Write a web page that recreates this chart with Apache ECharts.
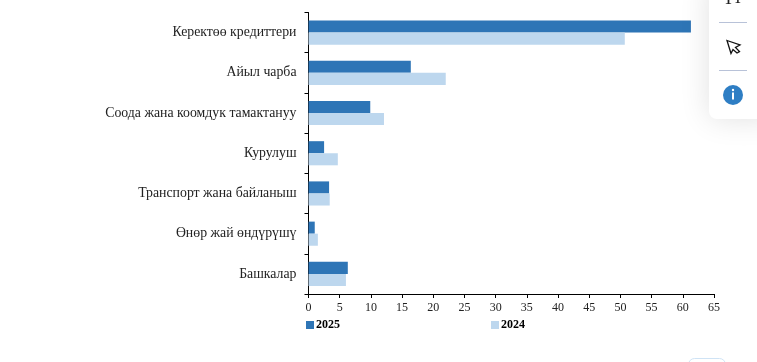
<!DOCTYPE html>
<html>
<head>
<meta charset="utf-8">
<style>
  html, body { margin: 0; padding: 0; background: #fff; }
  #chart { width: 757px; height: 362px; }
</style>
<script src="https://cdn.jsdelivr.net/npm/echarts@6/dist/echarts.min.js"></script>
</head>
<body>
<div id="chart"></div>
<script>
const categories = ['Керектөө кредиттери', 'Айыл чарба', 'Соода жана коомдук тамактануу', 'Курулуш', 'Транспорт жана байланыш', 'Өнөр жай өндүрүшү', 'Башкалар']
const values2025 = [61.3, 16.4, 9.9, 2.5, 3.3, 1.0, 6.3]
const values2024 = [50.7, 22.0, 12.1, 4.7, 3.4, 1.5, 6.0]

const serif = '"Liberation Serif", serif'
const chart = echarts.init(document.getElementById('chart'))

chart.setOption({
  animation: false,
  textStyle: { fontFamily: serif },
  grid: { left: 308.5, right: 43, top: 12.5, bottom: 68 },
  legend: {
    left: 301,
    top: 314,
    itemWidth: 8,
    itemHeight: 8,
    itemGap: 151,
    icon: 'rect',
    textStyle: { fontFamily: serif, fontSize: 12, fontWeight: 'bold', color: '#000', padding: [0, 0, 0, -3] }
  },
  xAxis: {
    type: 'value',
    min: 0,
    max: 65,
    interval: 5,
    splitLine: { show: false },
    axisLine: { show: true, lineStyle: { color: '#000', width: 1 } },
    axisTick: { show: true, length: 4, lineStyle: { color: '#000' } },
    axisLabel: { color: '#222', fontSize: 12, margin: 8, hideOverlap: false }
  },
  yAxis: {
    type: 'category',
    inverse: true,
    data: categories,
    axisLine: { show: true, onZero: false, lineStyle: { color: '#000', width: 1 } },
    axisTick: { show: true, length: 4, alignWithLabel: false, lineStyle: { color: '#000' } },
    axisLabel: { color: '#222', fontSize: 13.8, margin: 12, interval: 0 }
  },
  series: [
    { name: '2025', type: 'bar', data: values2025, barGap: 0, barCategoryGap: '40%', itemStyle: { color: '#2e75b6' } },
    { name: '2024', type: 'bar', data: values2024, itemStyle: { color: '#bdd7ee' } }
  ],
  // панель справа и кнопка снизу (не часть графика)
  graphic: [
    {
      type: 'rect', z: 10,
      shape: { x: 709, y: -20, width: 70, height: 139, r: 8 },
      style: { fill: '#fff', shadowBlur: 30, shadowColor: 'rgba(0,0,0,0.12)' }
    },
    { type: 'line', z: 11, shape: { x1: 719, y1: 22.5, x2: 747, y2: 22.5 }, style: { stroke: '#b8c2d8', lineWidth: 1 } },
    { type: 'line', z: 11, shape: { x1: 719, y1: 70.5, x2: 747, y2: 70.5 }, style: { stroke: '#b8c2d8', lineWidth: 1 } },
    { type: 'text', z: 11, x: 723, y: -10, style: { text: 'T', fontFamily: serif, fontSize: 18, fill: '#222' } },
    { type: 'text', z: 11, x: 733, y: -9, style: { text: 'T', fontFamily: serif, fontSize: 16, fill: '#222' } },
    {
      type: 'polygon', z: 11,
      shape: { points: [[727, 40.5], [740, 45], [735.5, 47.5], [739.5, 51.5], [737, 53], [733, 49.5], [731, 53.5]] },
      style: { fill: '#fff', stroke: '#111', lineWidth: 1.3 }
    },
    { type: 'circle', z: 11, shape: { cx: 733, cy: 95, r: 10 }, style: { fill: '#2e7ec4' } },
    { type: 'circle', z: 12, shape: { cx: 733, cy: 90, r: 1.2 }, style: { fill: '#fff' } },
    { type: 'rect', z: 12, shape: { x: 732, y: 92.5, width: 2, height: 7 }, style: { fill: '#fff' } },
    {
      type: 'rect', z: 10,
      shape: { x: 688.5, y: 358.5, width: 37, height: 20, r: 6 },
      style: { fill: '#fff', stroke: '#cfe3f5', lineWidth: 1 }
    }
  ]
})
</script>
</body>
</html>
